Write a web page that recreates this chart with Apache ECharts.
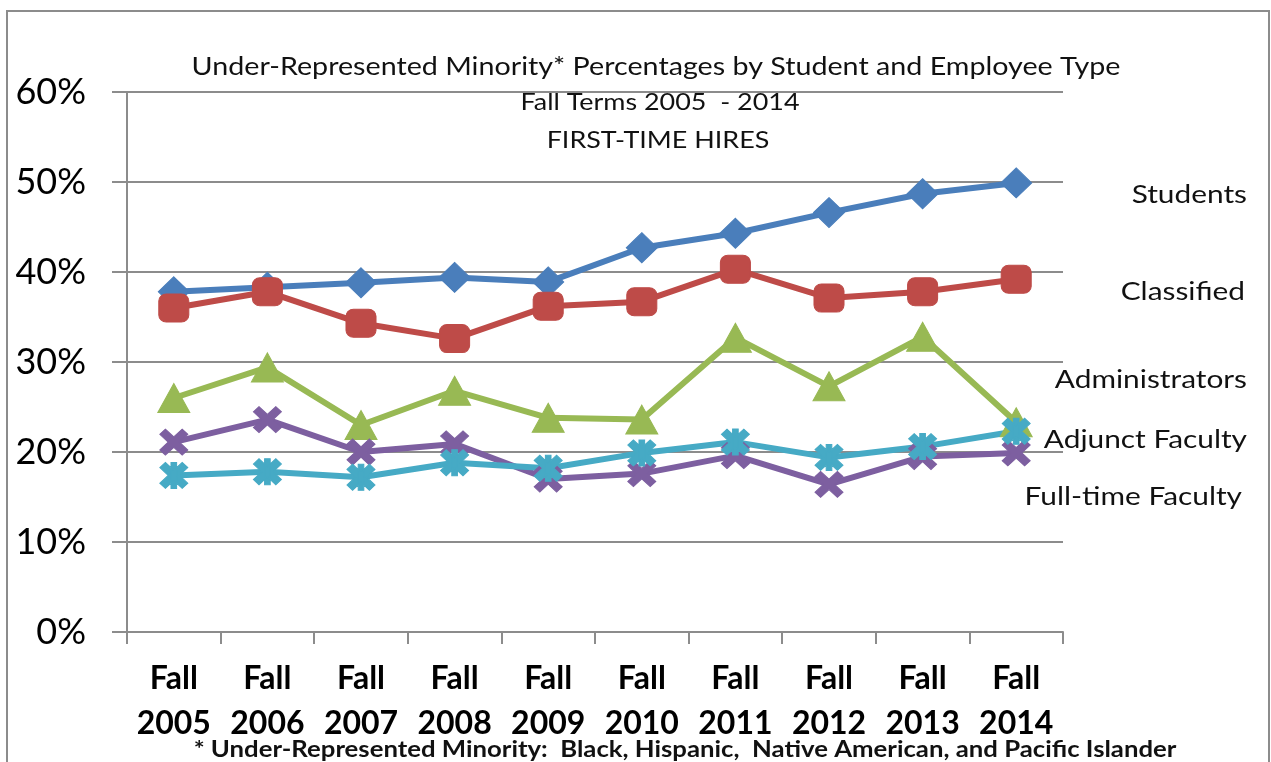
<!DOCTYPE html>
<html>
<head>
<meta charset="utf-8">
<script src="https://cdn.jsdelivr.net/npm/echarts@6/dist/echarts.min.js"></script>
<style>
  html, body { margin: 0; padding: 0; background: #fff; }
  #chart { width: 1271px; height: 762px; }
</style>
</head>
<body>
<div id="chart"></div>
<script>
// categories and values (percent)
const years = ['2005', '2006', '2007', '2008', '2009', '2010', '2011', '2012', '2013', '2014']
const categories = years.map(y => 'Fall\n' + y)

const students       = [37.8, 38.3, 38.8, 39.4, 38.9, 42.7, 44.3, 46.6, 48.7, 49.9]
const classified     = [36.0, 37.8, 34.3, 32.6, 36.2, 36.7, 40.3, 37.1, 37.8, 39.2]
const administrators = [26.0, 29.4, 23.0, 26.8, 23.8, 23.6, 32.7, 27.3, 32.8, 23.3]
const fullTime       = [21.1, 23.6, 20.0, 20.9, 17.0, 17.6, 19.6, 16.4, 19.5, 19.9]
const adjunct        = [17.4, 17.8, 17.2, 18.8, 18.2, 19.9, 21.1, 19.4, 20.6, 22.3]

const titleLines = [
  'Under-Represented Minority* Percentages by Student and Employee Type',
  'Fall Terms 2005  - 2014',
  'FIRST-TIME HIRES'
]
const footnote = '* Under-Represented Minority:  Black, Hispanic,  Native American, and Pacific Islander'

// marker shapes
const xMark = 'path://M0,2 L2,0 L5,3 L8,0 L10,2 L7,5 L10,8 L8,10 L5,7 L2,10 L0,8 L3,5 Z'
const starMark = 'path://M0,2 L2,0 L5,3 L8,0 L10,2 L7,5 L10,8 L8,10 L5,7 L2,10 L0,8 L3,5 Z M4,0 L6,0 L6,10 L4,10 Z'

const FONT = 'Lato, "Liberation Sans", sans-serif'
// the original picture is a bit stretched sideways
const STRETCH = 1.17

const chart = echarts.init(document.getElementById('chart'))

// 系列样式
const makeSeries = (name, data, color, symbol, size) => ({
  name: name,
  type: 'line',
  data: data,
  symbol: symbol,
  symbolSize: size,
  showSymbol: true,
  lineStyle: { color: color, width: 6 },
  itemStyle: { color: color, borderColor: color, borderWidth: 1 },
  z: 3
})

const textAt = (text, x, y, align, font) => ({
  type: 'text',
  x: x,
  y: y,
  scaleX: STRETCH,
  scaleY: 1,
  style: {
    text: text, x: 0, y: 0,
    align: align, verticalAlign: 'middle',
    textAlign: align, textVerticalAlign: 'middle',
    font: font, fill: '#111'
  }
})

const option = {
  animation: false,
  grid: { left: 127, right: 208, top: 92, bottom: 130, containLabel: false },
  xAxis: {
    type: 'category',
    data: categories,
    boundaryGap: true,
    axisLine: { show: true, lineStyle: { color: '#8c8c8c', width: 2 } },
    axisTick: { show: true, length: 12, lineStyle: { color: '#8c8c8c', width: 2 } },
    axisLabel: {
      margin: 24,
      color: '#000',
      fontFamily: FONT,
      fontWeight: 'bold',
      fontSize: 32,
      lineHeight: 45,
      interval: 0
    }
  },
  yAxis: {
    type: 'value',
    min: 0,
    max: 60,
    interval: 10,
    axisLine: { show: true, lineStyle: { color: '#8c8c8c', width: 2 } },
    axisTick: { show: true, length: 15, lineStyle: { color: '#8c8c8c', width: 2 } },
    splitLine: { lineStyle: { color: '#8c8c8c', width: 2 } },
    axisLabel: {
      formatter: '{value}%',
      margin: 41,
      color: '#000',
      fontFamily: FONT,
      fontSize: 36
    }
  },
  series: [
    makeSeries('Students', students, '#4a7ebb', 'diamond', [31, 30]),
    makeSeries('Classified', classified, '#be4b48', 'roundRect', [30, 28]),
    makeSeries('Administrators', administrators, '#98b954', 'triangle', [32, 29]),
    makeSeries('Full-time Faculty', fullTime, '#7d5fa0', xMark, [28, 26]),
    makeSeries('Adjunct Faculty', adjunct, '#46aac5', starMark, [28, 26])
  ],
  graphic: [
    {
      type: 'rect',
      shape: { x: 7, y: 11, width: 1262, height: 800 },
      style: { fill: 'none', stroke: '#8c8c8c', lineWidth: 2 },
      z: -1
    },
    textAt(titleLines[0], 656, 67, 'center', '24.5px ' + FONT),
    textAt(titleLines[1], 660, 103, 'center', '23px ' + FONT),
    textAt(titleLines[2], 658, 141, 'center', '23px ' + FONT),
    textAt('Students', 1247, 195, 'right', '25.5px ' + FONT),
    textAt('Classified', 1245, 292, 'right', '25.5px ' + FONT),
    textAt('Administrators', 1247, 380, 'right', '25.5px ' + FONT),
    textAt('Adjunct Faculty', 1247, 440, 'right', '25.5px ' + FONT),
    textAt('Full-time Faculty', 1242, 497, 'right', '25.5px ' + FONT),
    textAt(footnote, 685, 750, 'center', 'bold 22px ' + FONT)
  ]
}

chart.setOption(option)
</script>
</body>
</html>
